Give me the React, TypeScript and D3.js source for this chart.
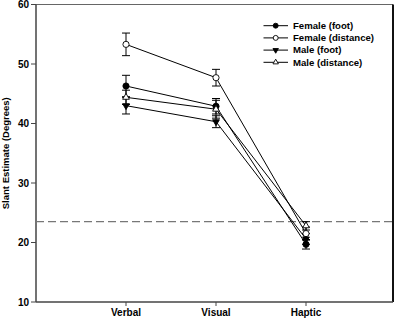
import React from "react";
import * as d3 from "d3";

const categories = ["Verbal", "Visual", "Haptic"];
const femaleFoot = [46.3, 42.9, 19.7];
const femaleFootErr = [1.8, 1.3, 0.8];
const femaleDistance = [53.3, 47.7, 21.5];
const femaleDistanceErr = [1.9, 1.4, 1.1];
const maleFoot = [43.0, 40.3, 20.6];
const maleFootErr = [1.4, 1.0, 0.9];
const maleDistance = [44.4, 42.4, 22.8];
const maleDistanceErr = [1.2, 1.5, 0.7];
const yTicks = [10, 20, 30, 40, 50, 60];
const referenceLine = 23.5;

type Shape = "circle" | "triDown" | "triUp";
const series = [
  { name: "Female (foot)", values: femaleFoot, err: femaleFootErr, shape: "circle" as Shape, filled: true },
  { name: "Female (distance)", values: femaleDistance, err: femaleDistanceErr, shape: "circle" as Shape, filled: false },
  { name: "Male (foot)", values: maleFoot, err: maleFootErr, shape: "triDown" as Shape, filled: true },
  { name: "Male (distance)", values: maleDistance, err: maleDistanceErr, shape: "triUp" as Shape, filled: false },
];

const W = 396;
const H = 319;
const left = 36;
const right = 393;
const top = 4.5;
const bottom = 302;
const font = "'Liberation Sans', Arial, sans-serif";

function Marker({ x, y, shape, filled, s = 1 }: { x: number; y: number; shape: Shape; filled: boolean; s?: number }) {
  const fill = filled ? "#000" : "#fff";
  if (shape === "circle") {
    return <circle cx={x} cy={y} r={3.1 * s} fill={fill} stroke="#000" strokeWidth={0.9} />;
  }
  const sym = d3.symbol().type(d3.symbolTriangle).size(20 * s * s)();
  const rot = shape === "triDown" ? 180 : 0;
  return (
    <path d={sym || ""} transform={`translate(${x},${y}) rotate(${rot})`} fill={fill} stroke="#000" strokeWidth={0.9} />
  );
}

export default function App() {
  const x = d3.scaleLinear().domain([0, 4]).range([left, 396]);
  const y = d3.scaleLinear().domain([10, 60]).range([bottom, top]);
  const line = d3
    .line<number>()
    .x((_, i) => x(i + 1))
    .y((d) => y(d));

  return (
    <svg
      width={W}
      height={H}
      style={{ position: "absolute", left: 0, top: 0, background: "#fff" }}
      fontFamily={font}
    >
      {/* frame */}
      <line x1={left} x2={right} y1={top} y2={top} stroke="#666" strokeWidth={1} />
      <line x1={right} x2={right} y1={top} y2={bottom} stroke="#111" strokeWidth={2} />
      <line x1={left} x2={right} y1={bottom} y2={bottom} stroke="#444" strokeWidth={1.5} />
      <line x1={left} x2={left} y1={top} y2={bottom} stroke="#444" strokeWidth={1.5} />

      {/* reference line */}
      <line
        x1={left}
        x2={right}
        y1={y(referenceLine)}
        y2={y(referenceLine)}
        stroke="#777"
        strokeWidth={1.2}
        strokeDasharray="8,4"
      />

      {/* y ticks */}
      {yTicks.map((t) => (
        <g key={t}>
          <line x1={left - 5} x2={left} y1={y(t)} y2={y(t)} stroke="#444" strokeWidth={1} />
          <text x={left - 7} y={y(t)} dy="0.35em" textAnchor="end" fontSize={10} fontWeight="bold" fill="#000">
            {t}
          </text>
        </g>
      ))}

      {/* x ticks */}
      {categories.map((c, i) => (
        <g key={c}>
          <line x1={x(i + 1)} x2={x(i + 1)} y1={bottom} y2={bottom + 4} stroke="#444" strokeWidth={1} />
          <text x={x(i + 1)} y={316} textAnchor="middle" fontSize={10} fontWeight="bold" fill="#000">
            {c}
          </text>
        </g>
      ))}

      {/* y label */}
      <text
        transform={`translate(9,${(top + bottom) / 2}) rotate(-90)`}
        textAnchor="middle"
        fontSize={9.5}
        fontWeight="bold"
        fill="#000"
      >
        Slant Estimate (Degrees)
      </text>

      {/* lines */}
      {series.map((s) => (
        <path key={s.name} d={line(s.values) || ""} fill="none" stroke="#000" strokeWidth={1} />
      ))}

      {/* error bars */}
      {series.map((s) =>
        s.values.map((v, i) => {
          const cx = x(i + 1);
          const y1 = y(v + s.err[i]);
          const y2 = y(v - s.err[i]);
          return (
            <g key={s.name + i} stroke="#000" strokeWidth={1}>
              <line x1={cx} x2={cx} y1={y1} y2={y2} />
              <line x1={cx - 4} x2={cx + 4} y1={y1} y2={y1} />
              <line x1={cx - 4} x2={cx + 4} y1={y2} y2={y2} />
            </g>
          );
        })
      )}

      {/* markers */}
      {series.map((s) =>
        s.values.map((v, i) => (
          <Marker key={s.name + "m" + i} x={x(i + 1)} y={y(v)} shape={s.shape} filled={s.filled} />
        ))
      )}

      {/* legend */}
      {series.map((s, i) => {
        const ly = 25.7 + i * 12.2;
        return (
          <g key={s.name + "leg"}>
            <line x1={263.5} x2={288} y1={ly} y2={ly} stroke="#000" strokeWidth={1} />
            <Marker x={275.7} y={ly} shape={s.shape} filled={s.filled} s={0.8} />
            <text x={293} y={ly} dy="0.35em" fontSize={9.6} fontWeight="bold" fill="#000">
              {s.name}
            </text>
          </g>
        );
      })}
    </svg>
  );
}
